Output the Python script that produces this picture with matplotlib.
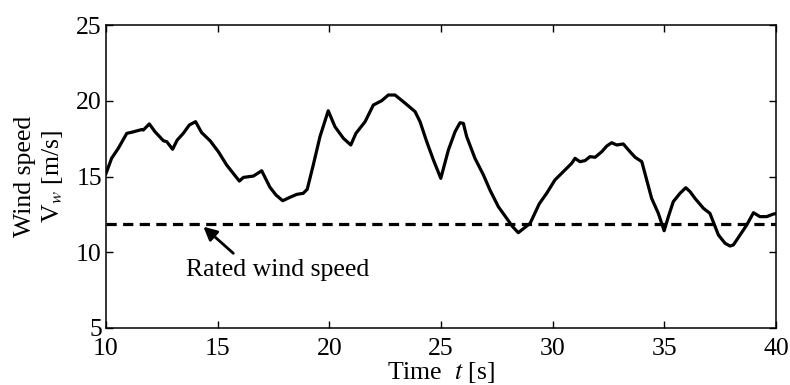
import numpy as np
import matplotlib.pyplot as plt

plt.rcParams['font.family'] = ['Liberation Serif', 'DejaVu Serif']
plt.rcParams['mathtext.fontset'] = 'stix'

# wind speed trace
t = [10.0, 10.25, 10.55, 10.93, 11.15, 11.6, 11.67, 11.94, 12.19, 12.57, 12.72, 12.98,
     13.19, 13.46, 13.73, 14.01, 14.28, 14.66, 15.03, 15.4, 15.7, 15.97, 16.15, 16.6,
     16.97, 17.34, 17.61, 17.91, 18.24, 18.54, 18.83, 19.01, 19.28, 19.58, 19.95,
     20.25, 20.63, 20.96, 21.19, 21.6, 21.97, 22.34, 22.64, 22.94, 23.31, 23.61, 23.84,
     24.06, 24.36, 24.66, 24.99, 25.33, 25.63, 25.85, 26.0, 26.15, 26.52, 26.9, 27.19,
     27.57, 27.94, 28.2, 28.46, 28.99, 29.4, 29.73, 30.1, 30.55, 30.85, 31.0, 31.22,
     31.45, 31.67, 31.9, 32.2, 32.42, 32.64, 32.87, 33.16, 33.46, 33.69, 33.99, 34.21,
     34.43, 34.73, 34.99, 35.18, 35.4, 35.7, 35.96, 36.15, 36.37, 36.75, 37.04, 37.42,
     37.72, 37.94, 38.09, 38.39, 38.69, 38.99, 39.28, 39.58, 39.88, 40.0]
vw = [15.2, 16.2, 16.86, 17.85, 17.92, 18.1, 18.07, 18.47, 17.96, 17.36, 17.3, 16.8,
      17.41, 17.85, 18.4, 18.62, 17.9, 17.36, 16.64, 15.76, 15.2, 14.7, 14.94, 15.03,
      15.38, 14.29, 13.78, 13.4, 13.63, 13.82, 13.89, 14.16, 15.76, 17.63, 19.34,
      18.29, 17.52, 17.08, 17.85, 18.62, 19.72, 20.0, 20.38, 20.38, 19.94, 19.57, 19.28,
      18.62, 17.3, 16.09, 14.88, 16.75, 17.96, 18.55, 18.51, 17.63, 16.2, 15.1, 14.11,
      13.0, 12.24, 11.7, 11.29, 11.91, 13.2, 13.89, 14.77, 15.43, 15.87, 16.2, 15.98,
      16.05, 16.31, 16.27, 16.64, 17.01, 17.23, 17.08, 17.15, 16.64, 16.27, 15.98, 14.77,
      13.56, 12.57, 11.42, 12.35, 13.34, 13.89, 14.26, 14.0, 13.56, 12.9, 12.57, 11.14,
      10.59, 10.41, 10.48, 11.14, 11.8, 12.61, 12.35, 12.35, 12.52, 12.55]
rated = 11.85

fig = plt.figure(figsize=(7.9, 3.85), dpi=100)
ax = fig.add_axes([0.1342, 0.1481, 0.8481, 0.7869])

ax.plot(t, vw, color='black', lw=2.3)
ax.axhline(rated, color='black', lw=2.3, dashes=(3.2, 2.0))

# annotation: arrow pointing at the rated speed line, text below it
ax.annotate('', xy=(14.36, 11.69), xytext=(15.7, 9.93),
            arrowprops=dict(arrowstyle='-|>', color='black', lw=2.0,
                            mutation_scale=20, shrinkA=0, shrinkB=0))
ax.text(17.7, 8.83, 'Rated wind speed', fontsize=18.5, ha='center', va='center')

ax.set_xlim(10, 40)
ax.set_ylim(5, 25)
ax.set_xticks([10, 15, 20, 25, 30, 35, 40])
ax.set_yticks([5, 10, 15, 20, 25])
ax.tick_params(direction='in', top=True, right=True, length=5, width=1,
               labelsize=18.5)
ax.tick_params(axis='x', pad=7)
ax.tick_params(axis='y', pad=3)
for s in ax.spines.values():
    s.set_linewidth(1.1)

ax.set_xlabel('Time  $t$ [s]', fontsize=18.5, labelpad=0.5)
ax.set_ylabel('Wind speed\nV$_w$ [m/s]', fontsize=18.5, labelpad=8)

fig.savefig('out.png', dpi=100)
